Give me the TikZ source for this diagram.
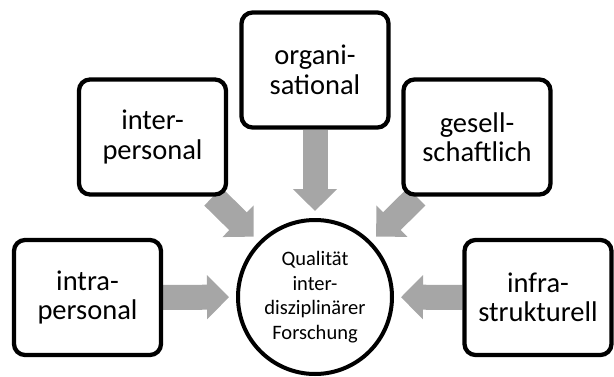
\documentclass[tikz,border=0pt]{standalone}
\usepackage{fontspec}
\setmainfont{Carlito}
\usetikzlibrary{arrows.meta,backgrounds}

\tikzset{
    factor/.style={draw, line width=4.3pt, rounded corners=11pt, fill=white,
        minimum width=147pt, minimum height=115pt, align=center,
        font=\fontsize{28.5}{29.5}\selectfont},
    center/.style={draw, circle, line width=4pt, minimum size=154pt, inner sep=0pt,
        align=center, font=\fontsize{20.5}{24.5}\selectfont},
    feed/.style={draw=gray!70, line width=25pt,
        -{Triangle[width=43pt,length=22pt]}, shorten >=7pt}
}

\begin{document}
\begin{tikzpicture}[x=1pt,y=1pt]
        \useasboundingbox (0,0) rectangle (614,376);

        \node[center] (hub) at (315,79) {Qualität\\inter-\\disziplinärer\\Forschung};

        \node[factor] (intra) at (87.5,78.5) {intra-\\personal};
        \node[factor] (inter) at (152.5,239) {inter-\\personal};
        \node[factor] (orga) at (315,306) {organi-\\sational};
        \node[factor] (gesell) at (477,239) {gesell-\\schaftlich};
        \node[factor] (infra) at (538,78.5) {infra-\\strukturell};

        % Pfeile zur Mitte
        \begin{scope}[on background layer]
        \draw[feed] (intra) -- (hub);
        \draw[feed] (inter) -- (hub);
        \draw[feed] (orga) -- (hub);
        \draw[feed] (gesell) -- (hub);
        \draw[feed] (infra) -- (hub);
        \end{scope}
\end{tikzpicture}
\end{document}
